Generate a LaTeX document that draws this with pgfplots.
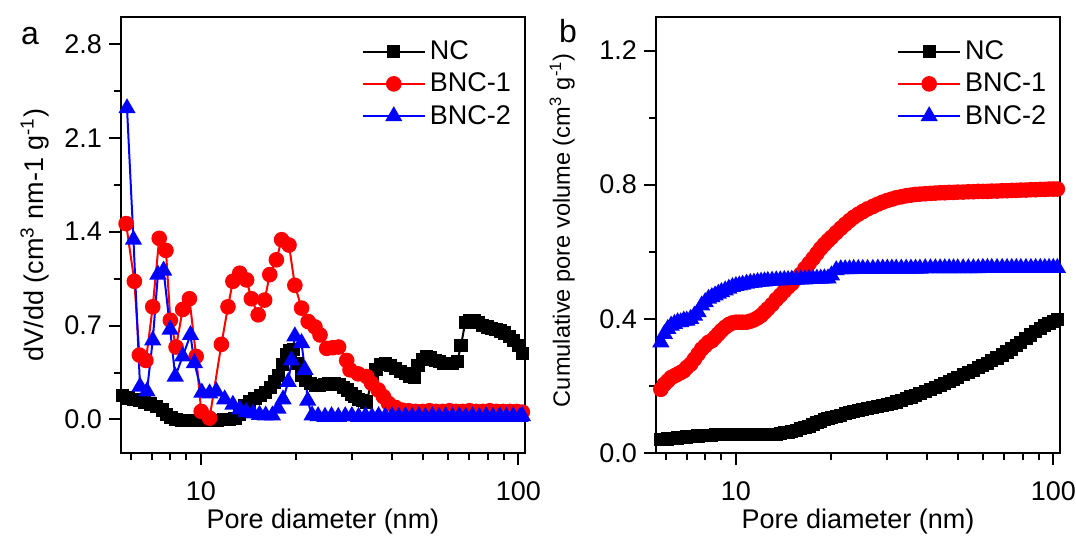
\documentclass[border=0pt]{standalone}
\usepackage{fontspec}
\setmainfont{Liberation Sans}
\usepackage{pgfplots}
\pgfplotsset{compat=1.18}
\usepackage{pgfplotstable}

% Panel a: NC
\pgfplotstableread{
x y
5.65 0.18
5.9 0.16
6.15 0.15
6.4 0.14
6.65 0.125
6.95 0.115
7.25 0.095
7.55 0.07
7.8 0.04
8.05 0.012
8.35 0.0
8.7 -0.005
9.1 -0.005
9.5 -0.005
9.9 -0.005
10.35 -0.005
10.8 -0.005
11.3 -0.005
11.8 0.0
12.3 0.0
12.8 0.005
13.25 0.04
13.75 0.10
14.25 0.13
14.8 0.155
15.4 0.18
16.0 0.20
16.6 0.24
17.1 0.28
17.6 0.33
18.1 0.41
18.6 0.48
19.1 0.51
19.6 0.52
20.2 0.42
20.7 0.33
21.4 0.29
22.1 0.27
22.9 0.255
23.7 0.255
24.5 0.26
25.3 0.27
26.3 0.265
27.3 0.26
28.2 0.24
29.0 0.22
29.8 0.19
30.6 0.17
31.4 0.15
32.3 0.14
33.3 0.13
34.6 0.30
35.6 0.37
36.8 0.41
38.2 0.42
39.6 0.40
41.0 0.38
42.5 0.355
44.0 0.34
45.5 0.32
47.0 0.31
48.3 0.40
49.8 0.45
51.4 0.47
53.0 0.46
54.7 0.44
56.5 0.43
58.3 0.42
60.2 0.42
62.2 0.42
64.2 0.43
66.0 0.55
68.0 0.72
70.2 0.74
72.5 0.74
74.9 0.72
77.3 0.70
79.8 0.69
82.4 0.68
85.1 0.67
87.9 0.66
90.7 0.645
93.7 0.62
96.7 0.59
99.9 0.55
103.0 0.49
}\aNC

% Panel a: BNC-1
\pgfplotstableread{
x y
5.81 1.46
6.17 1.03
6.40 0.48
6.71 0.44
7.05 0.84
7.39 1.35
7.76 1.26
8.01 0.74
8.35 0.54
8.76 0.82
9.20 0.90
9.66 0.47
10.02 0.06
10.65 0.01
11.6 0.56
12.17 0.84
12.61 1.03
13.25 1.09
13.93 1.04
14.42 0.90
15.15 0.78
15.88 0.89
16.48 1.08
17.29 1.19
17.96 1.34
18.95 1.30
19.77 1.00
20.76 0.83
21.78 0.73
22.88 0.69
23.73 0.63
24.91 0.53
26.0 0.535
27.15 0.54
28.8 0.44
29.5 0.37
31.3 0.34
33.3 0.32
34.5 0.27
36.2 0.22
37.6 0.17
39.0 0.12
41.0 0.09
43.0 0.07
45.2 0.065
47.5 0.06
50.0 0.06
52.5 0.065
55.0 0.06
57.8 0.06
60.7 0.065
63.7 0.06
66.9 0.06
70.2 0.065
73.7 0.06
77.4 0.06
81.3 0.065
85.3 0.06
89.6 0.06
94.1 0.06
98.8 0.06
103.0 0.055
}\aBNCa

% Panel a: BNC-2
\pgfplotstableread{
x y
5.85 2.32
6.13 1.34
6.43 0.245
6.76 0.21
7.05 0.59
7.32 1.08
7.63 1.11
8.00 0.67
8.30 0.32
8.76 0.47
9.27 0.63
9.54 0.42
10.07 0.20
10.65 0.195
11.18 0.21
11.88 0.15
12.61 0.11
13.25 0.075
13.9 0.055
14.6 0.045
15.3 0.035
16.0 0.03
16.8 0.03
17.5 0.08
18.15 0.15
18.84 0.28
19.3 0.44
19.77 0.62
20.75 0.57
21.27 0.37
21.7 0.14
22.4 0.03
23.4 0.025
24.6 0.02
25.8 0.025
27.1 0.02
28.5 0.025
29.9 0.025
31.4 0.02
33.0 0.025
34.6 0.02
36.3 0.025
38.1 0.02
40.0 0.025
42.0 0.02
44.1 0.025
46.3 0.02
48.6 0.025
51.0 0.02
53.6 0.025
56.3 0.02
59.1 0.025
62.1 0.02
65.2 0.025
68.4 0.02
71.8 0.025
75.4 0.02
79.2 0.025
83.2 0.02
87.4 0.025
91.8 0.02
96.4 0.025
101.2 0.02
103.0 0.025
}\aBNCb

% Panel b: cumulative pore volume (x, NC, BNC-1, BNC-2)
\pgfplotstableread{
x nc b1 b2
5.8 0.040 0.190 0.330
5.95 0.041 0.205 0.355
6.1 0.042 0.215 0.370
6.25 0.043 0.225 0.380
6.4 0.044 0.230 0.385
6.55 0.045 0.235 0.390
6.7 0.046 0.240 0.390
6.85 0.047 0.245 0.395
7.0 0.048 0.255 0.395
7.2 0.049 0.265 0.400
7.4 0.050 0.280 0.410
7.6 0.051 0.295 0.420
7.8 0.052 0.310 0.440
8.0 0.052 0.320 0.450
8.2 0.053 0.330 0.460
8.4 0.053 0.335 0.465
8.6 0.054 0.345 0.470
8.8 0.054 0.355 0.475
9.0 0.054 0.365 0.480
9.25 0.055 0.375 0.485
9.5 0.055 0.383 0.490
9.75 0.055 0.388 0.495
10 0.055 0.390 0.498
10.25 0.055 0.390 0.500
10.5 0.055 0.390 0.502
10.8 0.055 0.390 0.505
11.1 0.055 0.393 0.507
11.4 0.055 0.397 0.508
11.7 0.055 0.403 0.510
12 0.055 0.410 0.511
12.3 0.055 0.420 0.512
12.6 0.055 0.430 0.513
13 0.055 0.443 0.514
13.4 0.056 0.458 0.515
13.8 0.057 0.470 0.515
14.2 0.060 0.483 0.516
14.6 0.062 0.495 0.516
15 0.065 0.505 0.517
15.5 0.068 0.520 0.517
16 0.072 0.533 0.518
16.5 0.076 0.550 0.518
17 0.080 0.565 0.519
17.5 0.085 0.580 0.519
18 0.090 0.595 0.520
18.5 0.095 0.610 0.520
19 0.099 0.622 0.521
19.5 0.103 0.633 0.521
20 0.106 0.643 0.530
20.7 0.110 0.657 0.545
21.4 0.113 0.670 0.548
22.1 0.117 0.682 0.548
22.8 0.120 0.693 0.548
23.5 0.123 0.703 0.549
24.3 0.126 0.712 0.549
25.1 0.129 0.720 0.549
26 0.132 0.728 0.549
27 0.135 0.735 0.549
28 0.138 0.742 0.550
29 0.141 0.748 0.550
30 0.145 0.753 0.550
31 0.148 0.757 0.550
32 0.152 0.761 0.550
33.2 0.157 0.764 0.550
34.4 0.162 0.767 0.550
35.6 0.167 0.769 0.550
36.8 0.172 0.771 0.550
38 0.178 0.772 0.550
39.5 0.184 0.773 0.551
41 0.190 0.774 0.551
42.5 0.196 0.775 0.551
44 0.202 0.776 0.551
45.5 0.208 0.776 0.551
47 0.214 0.777 0.551
48.5 0.220 0.777 0.551
50 0.226 0.778 0.551
52 0.233 0.778 0.551
54 0.240 0.779 0.551
56 0.247 0.779 0.551
58 0.254 0.780 0.551
60 0.261 0.780 0.552
62 0.268 0.780 0.552
64 0.275 0.781 0.552
66.5 0.283 0.781 0.552
69 0.292 0.782 0.552
71.5 0.301 0.782 0.552
74 0.310 0.783 0.552
76.5 0.320 0.783 0.552
79 0.330 0.784 0.552
82 0.341 0.784 0.552
85 0.352 0.785 0.552
88 0.362 0.785 0.552
91 0.371 0.786 0.552
94 0.379 0.786 0.552
97 0.386 0.787 0.552
100 0.392 0.787 0.552
103 0.398 0.787 0.552
}\bData

\pgfplotsset{
  mylegend/.code={\pgfplotsset{legend image code/.code={\draw[mark repeat=2,mark phase=2,##1] plot coordinates {(0pt,0pt) (15.5pt,0pt) (31pt,0pt)};}}},
}

\begin{document}
\begin{tikzpicture}
\useasboundingbox (-60.5pt,-42.5pt) rectangle (477.5pt,226.5pt);

\begin{axis}[name=A, at={(0pt,0pt)}, anchor=south west,
  width=202pt, height=218pt, scale only axis,
  xmode=log, xmin=5.6, xmax=105,
  xtick={10,100}, xticklabels={10,100},
  minor xtick={6,7,8,9,20,30,40,50,60,70,80,90},
  tick align=outside, xtick pos=bottom, ytick pos=left,
  major tick length=6pt, minor tick length=3.5pt,
  tick style={black, line width=1pt},
  axis line style={line width=1pt},
  tick label style={font=\fontsize{13.5}{16}\selectfont},
  xticklabel style={yshift=-5pt},
  xlabel={Pore diameter (nm)},
  every axis x label/.style={at={(rel axis cs:0.5,-0.158)}, anchor=center, font=\fontsize{13.5}{16}\selectfont},
  legend style={draw=none, fill=none, anchor=north west,
    font=\fontsize{13.5}{16}\selectfont, row sep=1.25pt, inner sep=0pt,
    nodes={inner sep=2pt}, at={(0.595,0.956)}},
  legend cell align=left,
  ymin=-0.25, ymax=3.0,
  ytick={0,0.7,1.4,2.1,2.8}, yticklabels={0.0,0.7,1.4,2.1,2.8},
  minor ytick={0.35,1.05,1.75,2.45},
  ylabel={dV/dd (cm\textsuperscript{3} nm-1 g\textsuperscript{-1})},
  every axis y label/.style={at={(rel axis cs:-0.213,0.5)}, rotate=90, anchor=center, font=\fontsize{13.5}{16}\selectfont},
]
\addplot[black, line width=1pt, mark=square*, mark size=2.8pt, mark options={solid}, mylegend] table[x=x,y=y] {\aNC};
\addlegendentry{NC}
\addplot[red, line width=1pt, mark=*, mark size=3.4pt, mark options={solid}, mylegend] table[x=x,y=y] {\aBNCa};
\addlegendentry{BNC-1}
\addplot[blue, line width=1pt, mark=triangle*, mark size=4pt, mark options={solid}, mylegend] table[x=x,y=y] {\aBNCb};
\addlegendentry{BNC-2}
\end{axis}
\node[font=\fontsize{16}{19}\selectfont] at ([xshift=-45.5pt,yshift=208.5pt]A.south west) {a};

\begin{axis}[name=B, at={(267.5pt,0pt)}, anchor=south west,
  width=202pt, height=218pt, scale only axis,
  xmode=log, xmin=5.6, xmax=105,
  xtick={10,100}, xticklabels={10,100},
  minor xtick={6,7,8,9,20,30,40,50,60,70,80,90},
  tick align=outside, xtick pos=bottom, ytick pos=left,
  major tick length=6pt, minor tick length=3.5pt,
  tick style={black, line width=1pt},
  axis line style={line width=1pt},
  tick label style={font=\fontsize{13.5}{16}\selectfont},
  xticklabel style={yshift=-5pt},
  xlabel={Pore diameter (nm)},
  every axis x label/.style={at={(rel axis cs:0.5,-0.158)}, anchor=center, font=\fontsize{13.5}{16}\selectfont},
  legend style={draw=none, fill=none, anchor=north west,
    font=\fontsize{13.5}{16}\selectfont, row sep=1.25pt, inner sep=0pt,
    nodes={inner sep=2pt}, at={(0.596,0.956)}},
  legend cell align=left,
  ymin=0, ymax=1.3,
  ytick={0,0.4,0.8,1.2}, yticklabels={0.0,0.4,0.8,1.2},
  minor ytick={0.2,0.6,1.0},
  ylabel={Cumulative pore volume (cm\textsuperscript{3} g\textsuperscript{-1})},
  every axis y label/.style={at={(rel axis cs:-0.232,0.511)}, rotate=90, anchor=center, font=\fontsize{11.8}{14}\selectfont},
]
\addplot[black, line width=1pt, mark=square*, mark size=2.8pt, mark options={solid}, mylegend] table[x=x,y=nc] {\bData};
\addlegendentry{NC}
\addplot[red, line width=1pt, mark=*, mark size=3.4pt, mark options={solid}, mylegend] table[x=x,y=b1] {\bData};
\addlegendentry{BNC-1}
\addplot[blue, line width=1pt, mark=triangle*, mark size=4pt, mark options={solid}, mylegend] table[x=x,y=b2] {\bData};
\addlegendentry{BNC-2}
\end{axis}
\node[font=\fontsize{16}{19}\selectfont] at ([xshift=-44pt,yshift=211pt]B.south west) {b};
\end{tikzpicture}
\end{document}
